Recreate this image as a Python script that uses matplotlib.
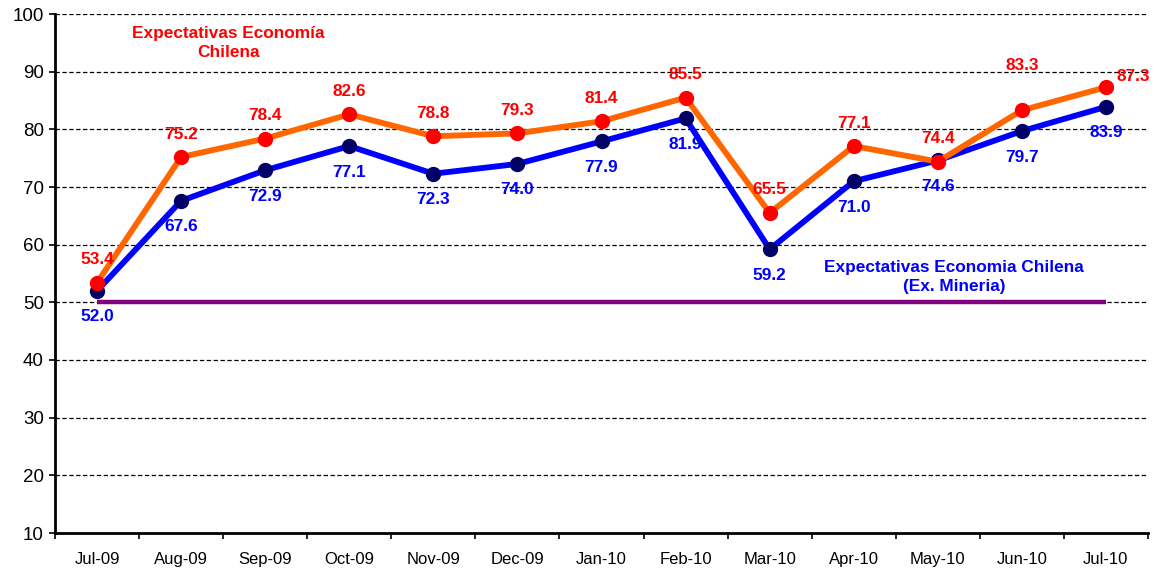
import matplotlib
matplotlib.use("Agg")
import matplotlib.pyplot as plt
from matplotlib.ticker import FixedLocator, MultipleLocator

months = ["Jul-09", "Aug-09", "Sep-09", "Oct-09", "Nov-09", "Dec-09", "Jan-10",
          "Feb-10", "Mar-10", "Apr-10", "May-10", "Jun-10", "Jul-10"]
economia = [53.4, 75.2, 78.4, 82.6, 78.8, 79.3, 81.4, 85.5, 65.5, 77.1, 74.4, 83.3, 87.3]
ex_mineria = [52.0, 67.6, 72.9, 77.1, 72.3, 74.0, 77.9, 81.9, 59.2, 71.0, 74.6, 79.7, 83.9]
reference_level = 50

plt.rcParams['font.family'] = ['Liberation Sans', 'DejaVu Sans']

fig = plt.figure(figsize=(11.57, 5.74), dpi=100)
ax = fig.add_axes([55/1157, 1 - 533/574, (1148 - 55)/1157, (533 - 14)/574])

x = list(range(len(months)))
ax.plot([x[0], x[-1]], [reference_level, reference_level], color="#800080", lw=3.2,
        solid_capstyle="butt", zorder=3)
ax.plot(x, ex_mineria, color="#0000FF", lw=4.2, marker="o", markersize=10,
        markerfacecolor="#000066", markeredgecolor="#000066", zorder=4)
ax.plot(x, economia, color="#FF6600", lw=4.2, marker="o", markersize=10,
        markerfacecolor="#FF0000", markeredgecolor="#FF0000", zorder=5)

px = 72 / 100
for i, v in enumerate(economia):
    dx, dy = 0, 23
    if i == 11:
        dy = 45
    if i == 12:
        dx, dy = 27, 11
    ax.annotate(f"{v:.1f}", (i, v), xytext=(dx * px, dy * px), textcoords="offset points",
                ha="center", va="center", color="#FF0000", fontsize=12.4, fontweight="bold",
                zorder=6)
for i, v in enumerate(ex_mineria):
    ax.annotate(f"{v:.1f}", (i, v), xytext=(0, -26 * px), textcoords="offset points",
                ha="center", va="center", color="#0000FF", fontsize=12.4, fontweight="bold",
                zorder=6)

ax.text(228 / 1157, 1 - 43 / 574, "Expectativas Economía\nChilena", transform=fig.transFigure,
        ha="center", va="center", color="#FF0000", fontsize=12.4, fontweight="bold",
        linespacing=1.3)
ax.text(954 / 1157, 1 - 277 / 574, "Expectativas Economia Chilena\n(Ex. Mineria)",
        transform=fig.transFigure, ha="center", va="center", color="#0000FF", fontsize=12.4,
        fontweight="bold", linespacing=1.3)

ax.set_xlim(-0.5, len(months) - 0.5)
ax.set_ylim(10, 100)
ax.yaxis.set_major_locator(MultipleLocator(10))
ax.set_xticks(x)
ax.set_xticklabels(months, fontsize=12)
ax.xaxis.set_minor_locator(FixedLocator([i - 0.5 for i in range(len(months) + 1)]))
ax.tick_params(axis="x", which="major", length=0, pad=14)
ax.tick_params(axis="x", which="minor", length=4, width=1.2, direction="out")
ax.tick_params(axis="y", length=4, width=1.2, labelsize=13.5, pad=4)

for y in range(20, 101, 10):
    ax.axhline(y, color="black", lw=0.9, ls=(0, (3.5, 2)), zorder=1)

for s in ["top", "right"]:
    ax.spines[s].set_visible(False)
for s in ["left", "bottom"]:
    ax.spines[s].set_linewidth(2)
ax.set_facecolor("white")

fig.savefig("out.png", dpi=100)
